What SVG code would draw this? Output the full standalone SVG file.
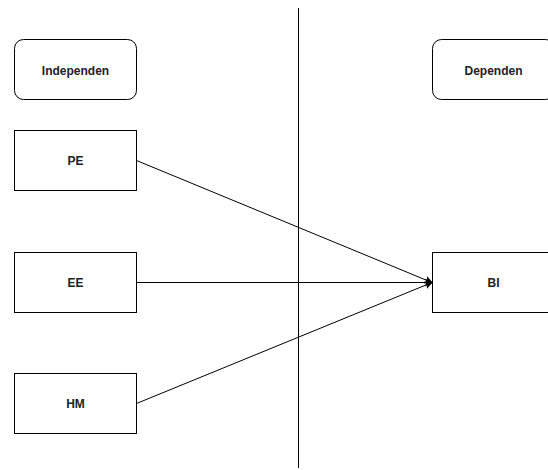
<svg xmlns="http://www.w3.org/2000/svg" width="548" height="470" viewBox="0 0 548 470">
<defs>
<style>
.box{fill:#fff;stroke:#000;stroke-width:1}
.lbl{font-family:"Liberation Sans",Arial,sans-serif;font-size:12px;font-weight:bold;fill:#222;text-anchor:middle;dominant-baseline:central}
.edge{stroke:#000;stroke-width:1;fill:none}
</style>
<marker id="arr" viewBox="0 0 10 10" refX="9" refY="5" markerWidth="8" markerHeight="8" markerUnits="userSpaceOnUse" orient="auto">
<path d="M0,0 L10,5 L0,10 L2.5,5 Z" fill="#000"/>
</marker>
</defs>
<rect width="548" height="470" fill="#fff"/>
<g id="divider"><line x1="298.5" y1="8" x2="298.5" y2="468" stroke="#000" stroke-width="1"/></g>
<g id="independen"><rect class="box" x="14.5" y="39.5" width="122" height="60" rx="9"/><text class="lbl" x="75.5" y="70.5">Independen</text></g>
<g id="dependen"><rect class="box" x="432.5" y="39.5" width="122" height="60" rx="9"/><text class="lbl" x="493.5" y="70.5">Dependen</text></g>
<g id="pe"><rect class="box" x="14.5" y="130.5" width="122" height="60"/><text class="lbl" x="75.5" y="161">PE</text></g>
<g id="ee"><rect class="box" x="14.5" y="252.5" width="122" height="60"/><text class="lbl" x="75.5" y="283">EE</text></g>
<g id="hm"><rect class="box" x="14.5" y="373.5" width="122" height="60"/><text class="lbl" x="75.5" y="404">HM</text></g>
<g id="bi"><rect class="box" x="432.5" y="252.5" width="122" height="60"/><text class="lbl" x="493.5" y="283">BI</text></g>
<g id="connectors">
<line class="edge" x1="136.5" y1="160.5" x2="432" y2="282.5" marker-end="url(#arr)"/>
<line class="edge" x1="136.5" y1="282.5" x2="432" y2="282.5" marker-end="url(#arr)"/>
<line class="edge" x1="136.5" y1="403.5" x2="432" y2="282.5" marker-end="url(#arr)"/>
</g>
</svg>
